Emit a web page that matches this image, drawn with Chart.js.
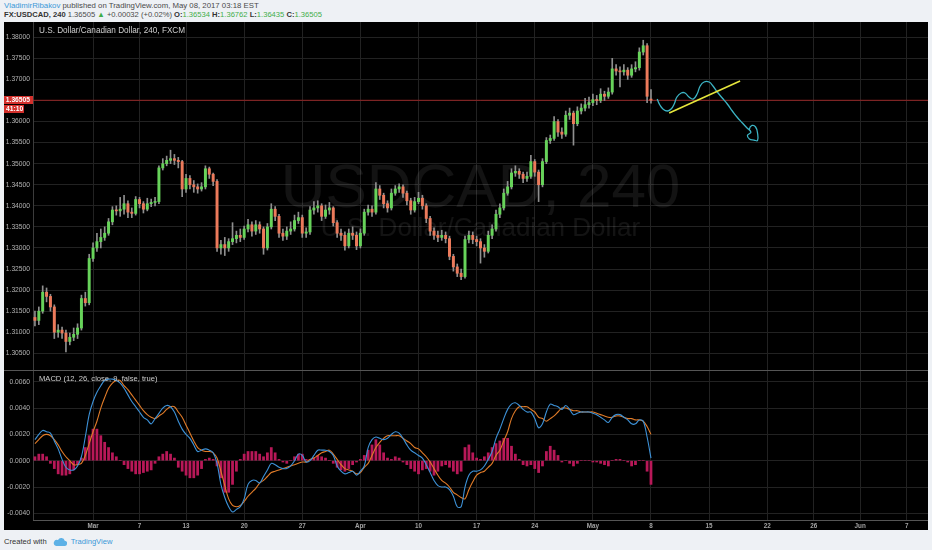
<!DOCTYPE html>
<html>
<head>
<meta charset="utf-8">
<title>USDCAD, 240</title>
<script src="https://cdn.jsdelivr.net/npm/chart.js@4.4.1/dist/chart.umd.min.js"></script>
<style>
  html, body { margin: 0; padding: 0; }
  body { width: 932px; height: 550px; overflow: hidden; position: relative; background: #eef1f5;
         font-family: "Liberation Sans", Arial, sans-serif; }
  .hdr { position: absolute; left: 4px; white-space: nowrap; color: #4a4a4a; line-height: 10px; }
  #h1 { top: 1px; font-size: 7.8px; }
  #h2 { top: 10px; font-size: 7.6px; }
  #h2 b { color: #333; }
  .blue { color: #3a98d8; }
  .up { color: #3fae49; }
  #panel { position: absolute; left: 4px; top: 22px; width: 924px; height: 508px; background: #000; }
  #pricebox { position: absolute; left: 0; top: 0; width: 924px; height: 348px; }
  #macdbox { position: absolute; left: 0; top: 348px; width: 924px; height: 160px; }
  #foot { position: absolute; left: 4px; top: 536px; height: 10px; font-size: 7.6px; color: #333;
          display: flex; align-items: center; white-space: nowrap; }
  #foot svg { margin: 0 4px 0 6px; }
</style>
</head>
<body>
<div class="hdr" id="h1"><span class="blue">VladimirRibakov</span> published on TradingView.com, May 08, 2017 03:18 EST</div>
<div class="hdr" id="h2"><b>FX:USDCAD, 240</b> 1.36505 <span class="up">&#9650;</span> +0.00032 (+0.02%) <b>O:</b><span class="up">1.36534</span> <b>H:</b><span class="up">1.36762</span> <b>L:</b><span class="up">1.36435</span> <b>C:</b><span class="up">1.36505</span></div>
<div id="panel">
  <div id="pricebox"><canvas id="price"></canvas></div>
  <div id="macdbox"><canvas id="macd"></canvas></div>
</div>
<div id="foot">Created with
  <svg width="14" height="9" viewBox="0 0 14 9"><path d="M3 9h8.3a2.6 2.6 0 0 0 .4-5.2A3.6 3.6 0 0 0 5 2.9 2.9 2.9 0 0 0 3 9z" fill="#5db1e6"/></svg>
  <span class="blue">TradingView</span></div>
<script>
var firstDay = Date.UTC(2017, 1, 22);
var lastDay = Date.UTC(2017, 5, 8);
var slotHours = [0, 8, 16];

var opens = [
  1.3135,1.3128,1.3150,1.3195,1.3185,1.3160,1.3100,1.3105,1.3098,1.3078,
  1.3088,1.3095,1.3110,1.3180,1.3170,1.3275,1.3300,1.3315,1.3325,1.3335,
  1.3362,1.3390,1.3388,1.3392,1.3405,1.3385,1.3382,1.3415,1.3405,1.3392,
  1.3405,1.3408,1.3410,1.3490,1.3500,1.3508,1.3512,1.3508,1.3505,1.3440,
  1.3465,1.3450,1.3445,1.3440,1.3445,1.3488,1.3475,1.3458,1.3300,1.3308,
  1.3300,1.3315,1.3322,1.3330,1.3325,1.3345,1.3355,1.3340,1.3355,1.3345,
  1.3300,1.3350,1.3392,1.3375,1.3335,1.3328,1.3340,1.3345,1.3365,1.3372,
  1.3335,1.3338,1.3390,1.3395,1.3400,1.3375,1.3390,1.3395,1.3360,1.3335,
  1.3330,1.3305,1.3335,1.3330,1.3305,1.3335,1.3385,1.3392,1.3385,1.3440,
  1.3425,1.3405,1.3395,1.3430,1.3440,1.3445,1.3430,1.3412,1.3390,1.3410,
  1.3418,1.3400,1.3370,1.3340,1.3330,1.3325,1.3330,1.3322,1.3280,1.3255,
  1.3240,1.3232,1.3320,1.3330,1.3320,1.3315,1.3300,1.3292,1.3330,1.3345,
  1.3380,1.3395,1.3430,1.3445,1.3478,1.3482,1.3475,1.3465,1.3470,1.3505,
  1.3480,1.3450,1.3505,1.3555,1.3560,1.3600,1.3575,1.3570,1.3615,1.3620,
  1.3595,1.3625,1.3632,1.3640,1.3645,1.3652,1.3650,1.3665,1.3660,1.3670,
  1.3725,1.3720,1.3718,1.3722,1.3710,1.3725,1.3728,1.3765,1.3780,1.36534
];
var highs = [
  1.3150,1.3160,1.3210,1.3205,1.3190,1.3165,1.3118,1.3112,1.3105,1.3098,
  1.3110,1.3120,1.3188,1.3195,1.3285,1.3312,1.3335,1.3345,1.3350,1.3370,
  1.3398,1.3400,1.3420,1.3425,1.3412,1.3395,1.3422,1.3420,1.3410,1.3418,
  1.3416,1.3420,1.3495,1.3512,1.3518,1.3532,1.3522,1.3515,1.3508,1.3475,
  1.3472,1.3460,1.3452,1.3455,1.3495,1.3492,1.3478,1.3462,1.3318,1.3325,
  1.3322,1.3360,1.3340,1.3345,1.3352,1.3368,1.3362,1.3365,1.3362,1.3350,
  1.3358,1.3405,1.3398,1.3380,1.3345,1.3350,1.3362,1.3378,1.3385,1.3378,
  1.3348,1.3398,1.3410,1.3412,1.3405,1.3402,1.3408,1.3398,1.3365,1.3345,
  1.3338,1.3345,1.3350,1.3338,1.3345,1.3392,1.3402,1.3400,1.3455,1.3448,
  1.3430,1.3412,1.3440,1.3448,1.3452,1.3450,1.3435,1.3418,1.3420,1.3432,
  1.3425,1.3405,1.3375,1.3348,1.3340,1.3342,1.3338,1.3328,1.3285,1.3262,
  1.3250,1.3328,1.3340,1.3338,1.3328,1.3322,1.3308,1.3340,1.3355,1.3390,
  1.3405,1.3440,1.3458,1.3488,1.3495,1.3488,1.3480,1.3480,1.3520,1.3510,
  1.3485,1.3512,1.3562,1.3568,1.3612,1.3605,1.3585,1.3625,1.3632,1.3625,
  1.3635,1.3642,1.3655,1.3658,1.3665,1.3662,1.3678,1.3672,1.3680,1.3750,
  1.3735,1.3730,1.3735,1.3728,1.3735,1.3742,1.3775,1.3793,1.3785,1.36762
];
var lows = [
  1.3115,1.3118,1.3145,1.3172,1.3150,1.3085,1.3088,1.3085,1.3053,1.3070,
  1.3080,1.3085,1.3105,1.3162,1.3165,1.3268,1.3292,1.3300,1.3318,1.3330,
  1.3355,1.3378,1.3375,1.3380,1.3372,1.3372,1.3378,1.3395,1.3383,1.3388,
  1.3398,1.3400,1.3405,1.3485,1.3495,1.3500,1.3498,1.3490,1.3422,1.3432,
  1.3440,1.3432,1.3430,1.3435,1.3440,1.3465,1.3448,1.3292,1.3285,1.3282,
  1.3292,1.3308,1.3312,1.3315,1.3320,1.3338,1.3328,1.3332,1.3335,1.3285,
  1.3295,1.3345,1.3365,1.3325,1.3318,1.3320,1.3332,1.3340,1.3358,1.3325,
  1.3325,1.3332,1.3380,1.3385,1.3365,1.3370,1.3380,1.3352,1.3325,1.3318,
  1.3295,1.3300,1.3320,1.3296,1.3300,1.3330,1.3378,1.3375,1.3380,1.3415,
  1.3395,1.3385,1.3390,1.3425,1.3432,1.3420,1.3402,1.3380,1.3385,1.3405,
  1.3392,1.3360,1.3330,1.3320,1.3315,1.3318,1.3312,1.3272,1.3245,1.3232,
  1.3225,1.3228,1.3312,1.3310,1.3305,1.3264,1.3278,1.3288,1.3322,1.3340,
  1.3372,1.3390,1.3425,1.3440,1.3470,1.3465,1.3455,1.3458,1.3465,1.3470,
  1.3410,1.3445,1.3500,1.3548,1.3555,1.3565,1.3560,1.3565,1.3605,1.3544,
  1.3590,1.3618,1.3625,1.3632,1.3638,1.3640,1.3645,1.3650,1.3655,1.3665,
  1.3710,1.3682,1.3710,1.3700,1.3705,1.3718,1.3722,1.3758,1.3645,1.36435
];
var closes = [
  1.3128,1.3150,1.3195,1.3185,1.3160,1.3100,1.3105,1.3098,1.3078,1.3088,
  1.3095,1.3110,1.3180,1.3170,1.3275,1.3300,1.3315,1.3325,1.3335,1.3362,
  1.3390,1.3388,1.3392,1.3405,1.3385,1.3382,1.3415,1.3405,1.3392,1.3405,
  1.3408,1.3410,1.3490,1.3500,1.3508,1.3512,1.3508,1.3505,1.3440,1.3465,
  1.3450,1.3445,1.3440,1.3445,1.3488,1.3475,1.3458,1.3300,1.3308,1.3300,
  1.3315,1.3322,1.3330,1.3325,1.3345,1.3355,1.3340,1.3355,1.3345,1.3300,
  1.3350,1.3392,1.3375,1.3335,1.3328,1.3340,1.3345,1.3365,1.3372,1.3335,
  1.3338,1.3390,1.3395,1.3400,1.3375,1.3390,1.3395,1.3360,1.3335,1.3330,
  1.3305,1.3335,1.3330,1.3305,1.3335,1.3385,1.3392,1.3385,1.3440,1.3425,
  1.3405,1.3395,1.3430,1.3440,1.3445,1.3430,1.3412,1.3390,1.3410,1.3418,
  1.3400,1.3370,1.3340,1.3330,1.3325,1.3330,1.3322,1.3280,1.3255,1.3240,
  1.3232,1.3320,1.3330,1.3320,1.3315,1.3300,1.3292,1.3330,1.3345,1.3380,
  1.3395,1.3430,1.3445,1.3478,1.3482,1.3475,1.3465,1.3470,1.3505,1.3480,
  1.3450,1.3505,1.3555,1.3560,1.3600,1.3575,1.3570,1.3615,1.3620,1.3595,
  1.3625,1.3632,1.3640,1.3645,1.3652,1.3650,1.3665,1.3660,1.3670,1.3725,
  1.3720,1.3718,1.3722,1.3710,1.3725,1.3728,1.3765,1.3780,1.3660,1.36505
];

// MACD (12, 26, close, 9)
var macdLine = [
  0.0016,0.0020,0.0023,0.0022,0.0021,0.0015,0.0009,0.0001,-0.0005,-0.0007,
  -0.0007,-0.0004,0.0003,0.0018,0.0035,0.0045,0.0052,0.0057,0.0061,0.0062,
  0.0062,0.0061,0.0059,0.0055,0.0050,0.0045,0.0041,0.0037,0.0033,0.0031,
  0.0028,0.0032,0.0036,0.0040,0.0042,0.0041,0.0037,0.0030,0.0024,0.0020,
  0.0017,0.0012,0.0007,0.0008,0.0009,0.0008,0.0006,-0.0002,-0.0018,-0.0028,
  -0.0035,-0.0039,-0.0037,-0.0035,-0.0029,-0.0018,-0.0015,-0.0015,-0.0017,-0.0012,
  -0.0007,-0.0002,-0.0003,-0.0005,-0.0006,-0.0006,-0.0004,0.0000,0.0005,0.0004,
  -0.0001,0.0000,0.0004,0.0008,0.0008,0.0008,0.0007,0.0004,-0.0004,-0.0008,
  -0.0010,-0.0009,-0.0008,-0.0011,-0.0008,-0.0004,0.0010,0.0016,0.0018,0.0017,
  0.0016,0.0017,0.0020,0.0022,0.0021,0.0017,0.0012,0.0008,0.0006,0.0004,
  0.0002,-0.0003,-0.0009,-0.0015,-0.0019,-0.0020,-0.0020,-0.0022,-0.0027,-0.0035,
  -0.0035,-0.0020,-0.0011,-0.0008,-0.0008,-0.0007,-0.0004,0.0001,0.0007,0.0017,
  0.0024,0.0032,0.0039,0.0043,0.0044,0.0042,0.0039,0.0037,0.0037,0.0032,
  0.0025,0.0028,0.0037,0.0043,0.0042,0.0041,0.0039,0.0042,0.0039,0.0035,
  0.0036,0.0037,0.0037,0.0037,0.0036,0.0035,0.0033,0.0031,0.0029,0.0033,
  0.0035,0.0035,0.0033,0.0031,0.0028,0.0028,0.0031,0.0030,0.0018,0.0002
];
var signalLine = [
  0.0013,0.0016,0.0019,0.0020,0.0019,0.0016,0.0012,0.0007,0.0003,0.0000,
  -0.0003,-0.0003,-0.0002,0.0004,0.0013,0.0022,0.0030,0.0040,0.0048,0.0055,
  0.0059,0.0061,0.0061,0.0057,0.0054,0.0050,0.0046,0.0042,0.0038,0.0035,
  0.0033,0.0032,0.0034,0.0036,0.0039,0.0041,0.0041,0.0037,0.0033,0.0027,
  0.0021,0.0015,0.0010,0.0008,0.0007,0.0007,0.0006,0.0002,-0.0008,-0.0019,
  -0.0029,-0.0034,-0.0035,-0.0034,-0.0031,-0.0027,-0.0024,-0.0021,-0.0017,-0.0015,
  -0.0012,-0.0009,-0.0008,-0.0007,-0.0006,-0.0005,-0.0004,-0.0003,-0.0002,-0.0001,
  -0.0001,0.0001,0.0002,0.0004,0.0006,0.0007,0.0008,0.0005,0.0001,-0.0003,
  -0.0006,-0.0007,-0.0008,-0.0010,-0.0009,-0.0005,-0.0002,0.0004,0.0010,0.0014,
  0.0017,0.0019,0.0019,0.0019,0.0019,0.0017,0.0015,0.0013,0.0010,0.0009,
  0.0006,0.0003,-0.0001,-0.0006,-0.0011,-0.0015,-0.0017,-0.0020,-0.0024,-0.0026,
  -0.0028,-0.0029,-0.0022,-0.0016,-0.0011,-0.0009,-0.0008,-0.0005,-0.0002,0.0004,
  0.0008,0.0015,0.0022,0.0032,0.0038,0.0041,0.0041,0.0041,0.0039,0.0037,
  0.0033,0.0032,0.0030,0.0032,0.0034,0.0037,0.0040,0.0040,0.0039,0.0038,
  0.0038,0.0037,0.0037,0.0037,0.0037,0.0036,0.0035,0.0034,0.0033,0.0033,
  0.0034,0.0034,0.0033,0.0032,0.0032,0.0031,0.0031,0.0030,0.0026,0.0020
];
var macdHist = [
  0.0003,0.0005,0.0005,0.0003,-0.0002,-0.0006,-0.0010,-0.0011,-0.0011,-0.0010,
  -0.0007,-0.0003,0.0002,0.0010,0.0019,0.0024,0.0024,0.0019,0.0014,0.0010,
  0.0006,0.0003,0.0000,-0.0003,-0.0006,-0.0008,-0.0010,-0.0010,-0.0009,-0.0008,
  -0.0007,-0.0002,0.0003,0.0005,0.0007,0.0005,0.0002,-0.0005,-0.0008,-0.0011,
  -0.0013,-0.0013,-0.0011,-0.0006,0.0001,0.0002,0.0001,-0.0004,-0.0013,-0.0024,
  -0.0024,-0.0018,-0.0008,0.0001,0.0005,0.0007,0.0007,0.0007,0.0005,0.0003,
  0.0006,0.0010,0.0006,0.0001,-0.0001,-0.0002,0.0000,0.0003,0.0005,0.0005,
  0.0001,0.0001,0.0002,0.0004,0.0003,0.0002,0.0000,-0.0002,-0.0005,-0.0007,
  -0.0008,-0.0006,-0.0003,-0.0001,0.0001,0.0004,0.0008,0.0012,0.0016,0.0012,
  0.0006,0.0002,0.0001,0.0003,0.0002,-0.0001,-0.0003,-0.0006,-0.0008,-0.0010,
  -0.0007,-0.0006,-0.0008,-0.0011,-0.0008,-0.0004,-0.0003,-0.0005,-0.0008,-0.0010,
  -0.0008,0.0010,0.0012,0.0006,0.0002,0.0001,0.0003,0.0006,0.0010,0.0013,
  0.0015,0.0017,0.0017,0.0011,0.0005,0.0001,-0.0003,-0.0004,-0.0003,-0.0006,
  -0.0009,-0.0004,0.0007,0.0011,0.0008,0.0004,-0.0001,0.0000,-0.0002,-0.0004,
  -0.0002,0.0000,0.0000,0.0000,-0.0001,-0.0001,-0.0002,-0.0003,-0.0004,0.0000,
  0.0001,0.0001,0.0000,-0.0001,-0.0004,-0.0003,0.0000,0.0000,-0.0008,-0.0018
];

var priceTicks = [1.305, 1.31, 1.315, 1.32, 1.325, 1.33, 1.335, 1.34, 1.345, 1.35,
                  1.355, 1.36, 1.365, 1.37, 1.375, 1.38];
var macdTicks = [-0.004, -0.002, 0, 0.002, 0.004, 0.006];
var tickDays = ['2017-03-01', '2017-03-07', '2017-03-13', '2017-03-20', '2017-03-27', '2017-04-03',
                '2017-04-10', '2017-04-17', '2017-04-24', '2017-05-01', '2017-05-08', '2017-05-15',
                '2017-05-22', '2017-05-26', '2017-06-01', '2017-06-07'];
var tickNames = ['Mar', '7', '13', '20', '27', 'Apr', '10', '17', '24', 'May', '8', '15', '22', '26', 'Jun', '7'];

// hand drawings on the chart, in (slot, price)
var trendLine = [{x: 163.7, y: 1.36203}, {x: 182.0, y: 1.36963}];
var sketchPath = [
  {x: 160.6, y: 1.36535}, {x: 161.3, y: 1.36393}, {x: 162.1, y: 1.36298}, {x: 163.2, y: 1.36251},
  {x: 164.2, y: 1.36298}, {x: 165.0, y: 1.36417}, {x: 165.7, y: 1.36583}, {x: 166.8, y: 1.36678},
  {x: 167.8, y: 1.36678}, {x: 168.8, y: 1.36583}, {x: 169.9, y: 1.36535}, {x: 170.9, y: 1.36654},
  {x: 171.7, y: 1.36844}, {x: 172.7, y: 1.36939}, {x: 174.0, y: 1.36939}, {x: 175.0, y: 1.36844},
  {x: 176.1, y: 1.36702}, {x: 177.4, y: 1.36559}, {x: 178.7, y: 1.36417}, {x: 180.0, y: 1.36251},
  {x: 181.2, y: 1.36108}, {x: 182.6, y: 1.35966}, {x: 183.8, y: 1.35847}, {x: 184.8, y: 1.35752},
  {x: 183.9, y: 1.35670}, {x: 184.4, y: 1.35586}, {x: 185.6, y: 1.35562}, {x: 186.5, y: 1.35550},
  {x: 186.5, y: 1.35728}, {x: 186.0, y: 1.35871}, {x: 185.1, y: 1.35907}, {x: 184.4, y: 1.35823},
  {x: 184.8, y: 1.35752}
];
var lastClose = closes[closes.length - 1];
var countdown = '41:10';

var FONT = '"Liberation Sans", Arial, sans-serif';
var GRID = '#222222';
var UP = '#67d35a', DOWN = '#ec7a5b', WICK = '#8f8f8f';

// one label per 8h slot over the trading days on the axis
var slots = [];
for (var t = firstDay; t <= lastDay; t += 864e5) {
  var wd = new Date(t).getUTCDay();
  if (wd === 0 || wd === 6) continue;
  var day = new Date(t).toISOString().slice(0, 10);
  slotHours.forEach(function (h) { slots.push(day + ' ' + h); });
}
var tickAt = {};
tickDays.forEach(function (d, i) { tickAt[slots.indexOf(d + ' 0')] = tickNames[i]; });

function xAxis(showLabels) {
  return {
    type: 'category', offset: true,
    grid: { offset: false, drawTicks: false,
            color: function (c) { return tickAt[c.index] !== undefined ? GRID : 'rgba(0,0,0,0)'; } },
    border: { display: false },
    ticks: { display: showLabels, autoSkip: false, maxRotation: 0, minRotation: 0, padding: 2,
             color: '#a3a3a3', font: { size: 6.3, weight: 'bold', family: FONT },
             callback: function (v, i) { return tickAt[i] || ''; } },
    afterFit: function (s) { s.height = showLabels ? 10 : 0; s.paddingLeft = 0; s.paddingRight = 0; }
  };
}
function yAxis(min, max, ticks, digits) {
  return {
    min: min, max: max, position: 'left',
    grid: { color: GRID, drawTicks: false },
    border: { display: true, color: '#3c3c3c' },
    afterBuildTicks: function (s) { s.ticks = ticks.map(function (v) { return { value: v }; }); },
    ticks: { padding: 3, autoSkip: false, color: '#b4b4b4', font: { size: 6.7, family: FONT },
             callback: function (v) { return v.toFixed(digits); } },
    afterFit: function (s) { s.width = 29; s.paddingTop = 0; s.paddingBottom = 0; }
  };
}
var drawAxis = { type: 'linear', display: false, offset: false, min: -0.5, max: slots.length - 0.5 };
var common = {
  animation: false, responsive: true, maintainAspectRatio: false, events: [],
  layout: { padding: 0 },
  plugins: { legend: { display: false }, tooltip: { enabled: false } }
};

var priceDecor = {
  id: 'priceDecor',
  beforeDatasetsDraw: function (chart) {
    var ctx = chart.ctx, a = chart.chartArea, cx = (a.left + a.right) / 2;
    ctx.save();
    ctx.fillStyle = 'rgba(255,255,255,0.075)';
    ctx.textAlign = 'center';
    ctx.font = '62px ' + FONT;
    ctx.fillText('USDCAD, 240', cx, a.top + 185);
    ctx.font = '26px ' + FONT;
    ctx.fillText('U.S. Dollar/Canadian Dollar', cx, a.top + 214);
    ctx.restore();
  },
  afterDraw: function (chart) {
    var ctx = chart.ctx, a = chart.chartArea;
    ctx.save();
    ctx.fillStyle = '#cfcfcf';
    ctx.textBaseline = 'middle';
    ctx.font = '8.2px ' + FONT;
    ctx.fillText('U.S. Dollar/Canadian Dollar, 240, FXCM', a.left + 6, a.top + 9);
    var y = Math.round(chart.scales.y.getPixelForValue(lastClose));
    ctx.fillStyle = '#d3302c';
    ctx.fillRect(0, y - 4, a.left, 8);
    ctx.fillRect(0, y + 5, 20, 8);
    ctx.fillStyle = '#ffffff';
    ctx.font = 'bold 6.7px ' + FONT;
    ctx.textAlign = 'right';
    ctx.fillText(lastClose.toFixed(5), a.left - 3, y);
    ctx.textAlign = 'left';
    ctx.fillText(countdown, 2, y + 9);
    ctx.restore();
  }
};
var macdDecor = {
  id: 'macdDecor',
  afterDraw: function (chart) {
    var ctx = chart.ctx, a = chart.chartArea;
    ctx.save();
    ctx.strokeStyle = '#555555';
    ctx.lineWidth = 1;
    ctx.beginPath();
    ctx.moveTo(0, 0.5); ctx.lineTo(chart.width, 0.5);
    ctx.moveTo(a.left, a.bottom + 0.5); ctx.lineTo(a.right, a.bottom + 0.5);
    ctx.stroke();
    ctx.fillStyle = '#cfcfcf';
    ctx.textBaseline = 'middle';
    ctx.font = '7.6px ' + FONT;
    ctx.fillText('MACD (12, 26, close, 9, false, true)', a.left + 6, a.top + 9);
    ctx.restore();
  }
};

new Chart(document.getElementById('price'), {
  type: 'bar',
  data: {
    labels: slots,
    datasets: [
      { label: 'wick', data: lows.map(function (l, i) { return [l, highs[i]]; }),
        xAxisID: 'x', yAxisID: 'y', grouped: false, barThickness: 1, backgroundColor: WICK, order: 2 },
      { label: 'body', data: opens.map(function (o, i) { return [o, closes[i]]; }),
        xAxisID: 'x', yAxisID: 'y', grouped: false, barThickness: 2.3, minBarLength: 1, borderSkipped: false,
        backgroundColor: function (c) { return closes[c.dataIndex] >= opens[c.dataIndex] ? UP : DOWN; },
        order: 1 },
      { type: 'line', label: 'last', xAxisID: 'xd', yAxisID: 'y',
        data: [{ x: -0.5, y: lastClose }, { x: slots.length - 0.5, y: lastClose }],
        borderColor: 'rgba(200,40,40,0.7)', borderWidth: 1, pointRadius: 0, order: 3 },
      { type: 'line', label: 'trend', xAxisID: 'xd', yAxisID: 'y', data: trendLine,
        borderColor: '#e6e63c', borderWidth: 1.6, pointRadius: 0, order: 0 },
      { type: 'line', label: 'sketch', xAxisID: 'xd', yAxisID: 'y', data: sketchPath,
        borderColor: '#3cb4c4', borderWidth: 1.3, pointRadius: 0, tension: 0.45, order: 0 }
    ]
  },
  options: Object.assign({}, common, {
    scales: { x: xAxis(false), xd: drawAxis, y: yAxis(1.301031, 1.383632, priceTicks, 5) }
  }),
  plugins: [priceDecor]
});

new Chart(document.getElementById('macd'), {
  type: 'bar',
  data: {
    labels: slots,
    datasets: [
      { label: 'Histogram', data: macdHist, xAxisID: 'x', yAxisID: 'y', barThickness: 2.1,
        backgroundColor: '#b81858', order: 3 },
      { type: 'line', label: 'Signal', data: signalLine, xAxisID: 'x', yAxisID: 'y',
        borderColor: '#e07b28', borderWidth: 1.1, pointRadius: 0, tension: 0.35, order: 2 },
      { type: 'line', label: 'MACD', data: macdLine, xAxisID: 'x', yAxisID: 'y',
        borderColor: '#3d92d8', borderWidth: 1.1, pointRadius: 0, tension: 0.35, order: 1 }
    ]
  },
  options: Object.assign({}, common, {
    scales: { x: xAxis(true), y: yAxis(-0.004506, 0.006892, macdTicks, 4) }
  }),
  plugins: [macdDecor]
});
</script>
</body>
</html>
